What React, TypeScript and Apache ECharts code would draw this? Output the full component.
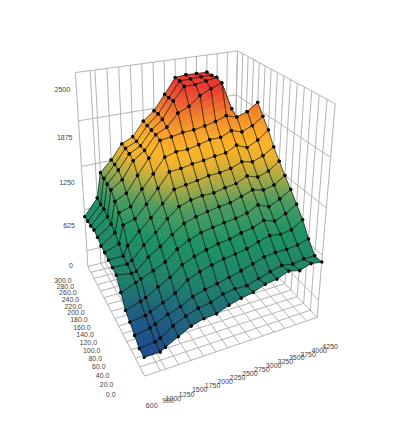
import React, { useEffect, useRef } from "react";
import * as echarts from "echarts";

const xTicks = [600, 900, 1000, 1250, 1500, 1750, 2000, 2250, 2500, 2750, 3000, 3250, 3500, 3750, 4000, 4250];
const yTicks = [0, 20, 40, 60, 80, 100, 120, 140, 160, 180, 200, 220, 240, 260, 280, 300];
const zTicks = [0, 625, 1250, 1875, 2500];

// height at each x, from y = 0 to y = 300
const at600 = [0, 0, 61, 131, 183, 323, 461, 471, 483, 500, 506, 542, 566, 541, 531, 521];
const at900 = [3, 18, 94, 155, 243, 398, 430, 464, 489, 571, 643, 682, 708, 740, 732, 754];
const at1000 = [43, 47, 125, 187, 275, 432, 440, 498, 614, 814, 904, 986, 1073, 1083, 1094, 1109];
const at1250 = [128, 158, 204, 256, 370, 496, 590, 665, 771, 859, 950, 1062, 1178, 1245, 1258, 1260];
const at1500 = [213, 234, 258, 336, 454, 570, 691, 795, 917, 1022, 1157, 1274, 1408, 1439, 1454, 1458];
const at1750 = [257, 290, 340, 467, 578, 697, 810, 944, 1069, 1203, 1329, 1477, 1518, 1521, 1524, 1530];
const at2000 = [269, 315, 390, 532, 645, 779, 920, 1069, 1225, 1390, 1521, 1686, 1703, 1708, 1715, 1722];
const at2250 = [332, 378, 420, 576, 690, 839, 970, 1120, 1252, 1404, 1564, 1704, 1777, 1828, 1850, 1843];
const at2500 = [374, 400, 455, 614, 731, 868, 1003, 1142, 1276, 1432, 1566, 1735, 1939, 2052, 2048, 2044];
const at2750 = [405, 394, 498, 636, 753, 893, 1030, 1145, 1307, 1450, 1599, 1741, 2006, 2223, 2252, 2252];
const at3000 = [464, 443, 549, 663, 796, 912, 1049, 1179, 1316, 1475, 1639, 1769, 2125, 2226, 2255, 2269];
const at3250 = [485, 490, 598, 716, 827, 945, 1098, 1203, 1342, 1489, 1641, 1804, 2193, 2252, 2265, 2265];
const at3500 = [547, 530, 616, 761, 887, 1021, 1151, 1272, 1401, 1565, 1706, 1855, 2250, 2280, 2263, 2262];
const at3750 = [510, 503, 617, 738, 838, 959, 1117, 1225, 1368, 1504, 1662, 1810, 1874, 1180, 905, 740];
const at4000 = [560, 530, 633, 759, 903, 1029, 1149, 1275, 1422, 1577, 1721, 1860, 1290, 960, 795, 685];
const at4250 = [534, 532, 677, 859, 995, 1125, 1248, 1379, 1515, 1689, 1823, 1964, 1070, 850, 685, 575];
const heights = [at600, at900, at1000, at1250, at1500, at1750, at2000, at2250, at2500, at2750, at3000, at3250, at3500, at3750, at4000, at4250];

const colorStops: [number, number[]][] = [
  [0, [29, 74, 140]],
  [190, [29, 95, 125]],
  [430, [28, 128, 104]],
  [750, [27, 145, 98]],
  [1030, [77, 154, 94]],
  [1220, [163, 168, 69]],
  [1410, [233, 176, 47]],
  [1550, [251, 179, 36]],
  [1660, [252, 168, 42]],
  [1845, [244, 138, 42]],
  [2065, [238, 90, 48]],
  [2220, [232, 56, 46]],
];

const FLOOR_Z = -250;
const TOP_Z = 2500;

// camera calibration: box corners (unit box), where they sit in the picture, how much each counts
const calibration: number[][] = [
  [0, 0, 0, 145, 375, 1],
  [1, 0, 0, 317, 319, 1],
  [0, 1, 0, 88, 268, 1],
  [0, 1, 1, 75, 72, 1],
  [1, 1, 1, 238, 52, 1],
  [1, 0, 1, 335, 103, 1],
  [1, 1, 0, 232, 222, 0.5],
];

function fitCamera(): number[] {
  const rows: number[][] = [];
  const rhs: number[] = [];
  for (const [X, Y, Z, x, y, w] of calibration) {
    rows.push([X, Y, Z, 1, 0, 0, 0, 0, -x * X, -x * Y, -x * Z].map((q) => q * w));
    rhs.push(x * w);
    rows.push([0, 0, 0, 0, X, Y, Z, 1, -y * X, -y * Y, -y * Z].map((q) => q * w));
    rhs.push(y * w);
  }
  const n = 11;
  const A: number[][] = [];
  for (let a = 0; a < n; a++) {
    const r = new Array(n + 1).fill(0);
    for (let b = 0; b < n; b++) for (let k = 0; k < rows.length; k++) r[b] += rows[k][a] * rows[k][b];
    for (let k = 0; k < rows.length; k++) r[n] += rows[k][a] * rhs[k];
    A.push(r);
  }
  for (let c = 0; c < n; c++) {
    let p = c;
    for (let r = c + 1; r < n; r++) if (Math.abs(A[r][c]) > Math.abs(A[p][c])) p = r;
    [A[c], A[p]] = [A[p], A[c]];
    for (let r = 0; r < n; r++) {
      if (r === c) continue;
      const f = A[r][c] / A[c][c];
      for (let k = c; k <= n; k++) A[r][k] -= f * A[c][k];
    }
  }
  return A.map((r, i) => r[n] / r[i]);
}

const cam = fitCamera();

function project(xv: number, yv: number, zv: number): [number, number] {
  const X = (xv - 600) / 3650;
  const Y = yv / 300;
  const Z = (zv - FLOOR_Z) / (TOP_Z - FLOOR_Z);
  const d = cam[8] * X + cam[9] * Y + cam[10] * Z + 1;
  return [(cam[0] * X + cam[1] * Y + cam[2] * Z + cam[3]) / d, (cam[4] * X + cam[5] * Y + cam[6] * Z + cam[7]) / d];
}

function colorOf(z: number): string {
  const s = colorStops;
  if (z <= s[0][0]) return `rgb(${s[0][1].join(",")})`;
  for (let k = 1; k < s.length; k++) {
    if (z <= s[k][0]) {
      const t = (z - s[k - 1][0]) / (s[k][0] - s[k - 1][0]);
      const c = s[k - 1][1].map((a, n) => Math.round(a + (s[k][1][n] - a) * t));
      return `rgb(${c.join(",")})`;
    }
  }
  return `rgb(${s[s.length - 1][1].join(",")})`;
}

const GRID = "#b4b4b4";
const SUB = 4;

export default function App() {
  const ref = useRef<HTMLDivElement>(null);
  useEffect(() => {
    document.body.style.margin = "0";
    document.body.style.background = "#fff";
    const chart = echarts.init(ref.current!, undefined, { renderer: "svg" });

    const xMin = xTicks[0];
    const xMax = xTicks[xTicks.length - 1];
    const yMax = yTicks[yTicks.length - 1];

    // box lines: [x0,y0,z0,x1,y1,z1]
    const lines: number[][] = [];
    for (const x of xTicks) {
      lines.push([x, 0, FLOOR_Z, x, yMax, FLOOR_Z]);
      lines.push([x, yMax, FLOOR_Z, x, yMax, TOP_Z]);
    }
    for (const y of yTicks) {
      lines.push([xMin, y, FLOOR_Z, xMax, y, FLOOR_Z]);
      lines.push([xMax, y, FLOOR_Z, xMax, y, TOP_Z]);
    }
    for (const z of zTicks) {
      lines.push([xMin, yMax, z, xMax, yMax, z]);
      lines.push([xMax, 0, z, xMax, yMax, z]);
    }

    const cells: number[][] = [];
    for (let j = yTicks.length - 2; j >= 0; j--) {
      for (let i = xTicks.length - 2; i >= 0; i--) cells.push([i, j]);
    }

    type Lab = { text: string; px: number; py: number };
    const labels: Lab[] = [];
    const lerp = (a: number, b: number, t: number) => a + (b - a) * t;
    xTicks.forEach((x) => {
      const t = (x - xMin) / (xMax - xMin);
      const [px, py] = project(x, 0, FLOOR_Z);
      labels.push({ text: String(x), px: px + lerp(7, 13, t), py: py + lerp(29.5, 29.5, t) });
    });
    yTicks.forEach((y) => {
      const t = y / yMax;
      const [px, py] = project(xMin, y, FLOOR_Z);
      labels.push({ text: y.toFixed(1), px: px + lerp(-34, -25, t), py: py + lerp(18, 14, t) });
    });
    zTicks.forEach((z) => {
      const t = z / TOP_Z;
      const [px, py] = project(xMin, yMax, z);
      labels.push({ text: String(z), px: px + lerp(-16, -13, t), py: py + lerp(15, 17, t) });
    });

    const option: any = {
      animation: false,
      backgroundColor: "#fff",
      grid: { left: 0, right: 0, top: 0, bottom: 0 },
      xAxis: { type: "value", min: 0, max: 407, show: false },
      yAxis: { type: "value", min: 0, max: 428, inverse: true, show: false },
      series: [
        {
          type: "custom",
          coordinateSystem: "cartesian2d",
          silent: true,
          clip: false,
          data: lines,
          renderItem: (_: any, api: any) => {
            const v = [0, 1, 2, 3, 4, 5].map((k) => api.value(k));
            const a = api.coord(project(v[0], v[1], v[2]));
            const b = api.coord(project(v[3], v[4], v[5]));
            return {
              type: "line",
              shape: { x1: a[0], y1: a[1], x2: b[0], y2: b[1] },
              style: { stroke: GRID, lineWidth: 1, fill: "none" },
            };
          },
        },
        {
          type: "custom",
          coordinateSystem: "cartesian2d",
          silent: true,
          clip: false,
          data: cells,
          renderItem: (_: any, api: any) => {
            const i = api.value(0);
            const j = api.value(1);
            const x0 = xTicks[i];
            const x1 = xTicks[i + 1];
            const y0 = yTicks[j];
            const y1 = yTicks[j + 1];
            const z00 = heights[i][j];
            const z10 = heights[i + 1][j];
            const z01 = heights[i][j + 1];
            const z11 = heights[i + 1][j + 1];
            const at = (s: number, t: number) => {
              const z = (z00 * (1 - s) + z10 * s) * (1 - t) + (z01 * (1 - s) + z11 * s) * t;
              return { z, p: api.coord(project(x0 + (x1 - x0) * s, y0 + (y1 - y0) * t, z)) };
            };
            const children: any[] = [];
            for (let a = 0; a < SUB; a++) {
              for (let b = 0; b < SUB; b++) {
                const s0 = a / SUB;
                const s1 = (a + 1) / SUB;
                const t0 = b / SUB;
                const t1 = (b + 1) / SUB;
                const pts = [at(s0, t0), at(s1, t0), at(s1, t1), at(s0, t1)];
                const c = colorOf((pts[0].z + pts[1].z + pts[2].z + pts[3].z) / 4);
                children.push({
                  type: "polygon",
                  shape: { points: pts.map((q) => q.p) },
                  style: { fill: c, stroke: c, lineWidth: 0.6 },
                });
              }
            }
            const corners = [at(0, 0).p, at(1, 0).p, at(1, 1).p, at(0, 1).p];
            children.push({
              type: "polygon",
              shape: { points: corners },
              style: { fill: "none", stroke: "rgba(15,25,15,0.8)", lineWidth: 0.8 },
            });
            for (const c of corners) {
              children.push({ type: "circle", shape: { cx: c[0], cy: c[1], r: 1.7 }, style: { fill: "#0a0a0a" } });
            }
            return { type: "group", children };
          },
        },
        {
          type: "custom",
          coordinateSystem: "cartesian2d",
          silent: true,
          clip: false,
          data: labels.map((l) => [l.px, l.py]),
          renderItem: (p: any, api: any) => {
            const c = api.coord([api.value(0), api.value(1)]);
            return {
              type: "text",
              x: c[0],
              y: c[1],
              style: {
                text: labels[p.dataIndex].text,
                fill: "#444",
                font: '7px "Liberation Sans", Arial, sans-serif',
                align: "center",
                verticalAlign: "middle",
              },
            };
          },
        },
      ],
    };
    chart.setOption(option);
    return () => chart.dispose();
  }, []);
  return <div ref={ref} style={{ width: 407, height: 428 }} />;
}
